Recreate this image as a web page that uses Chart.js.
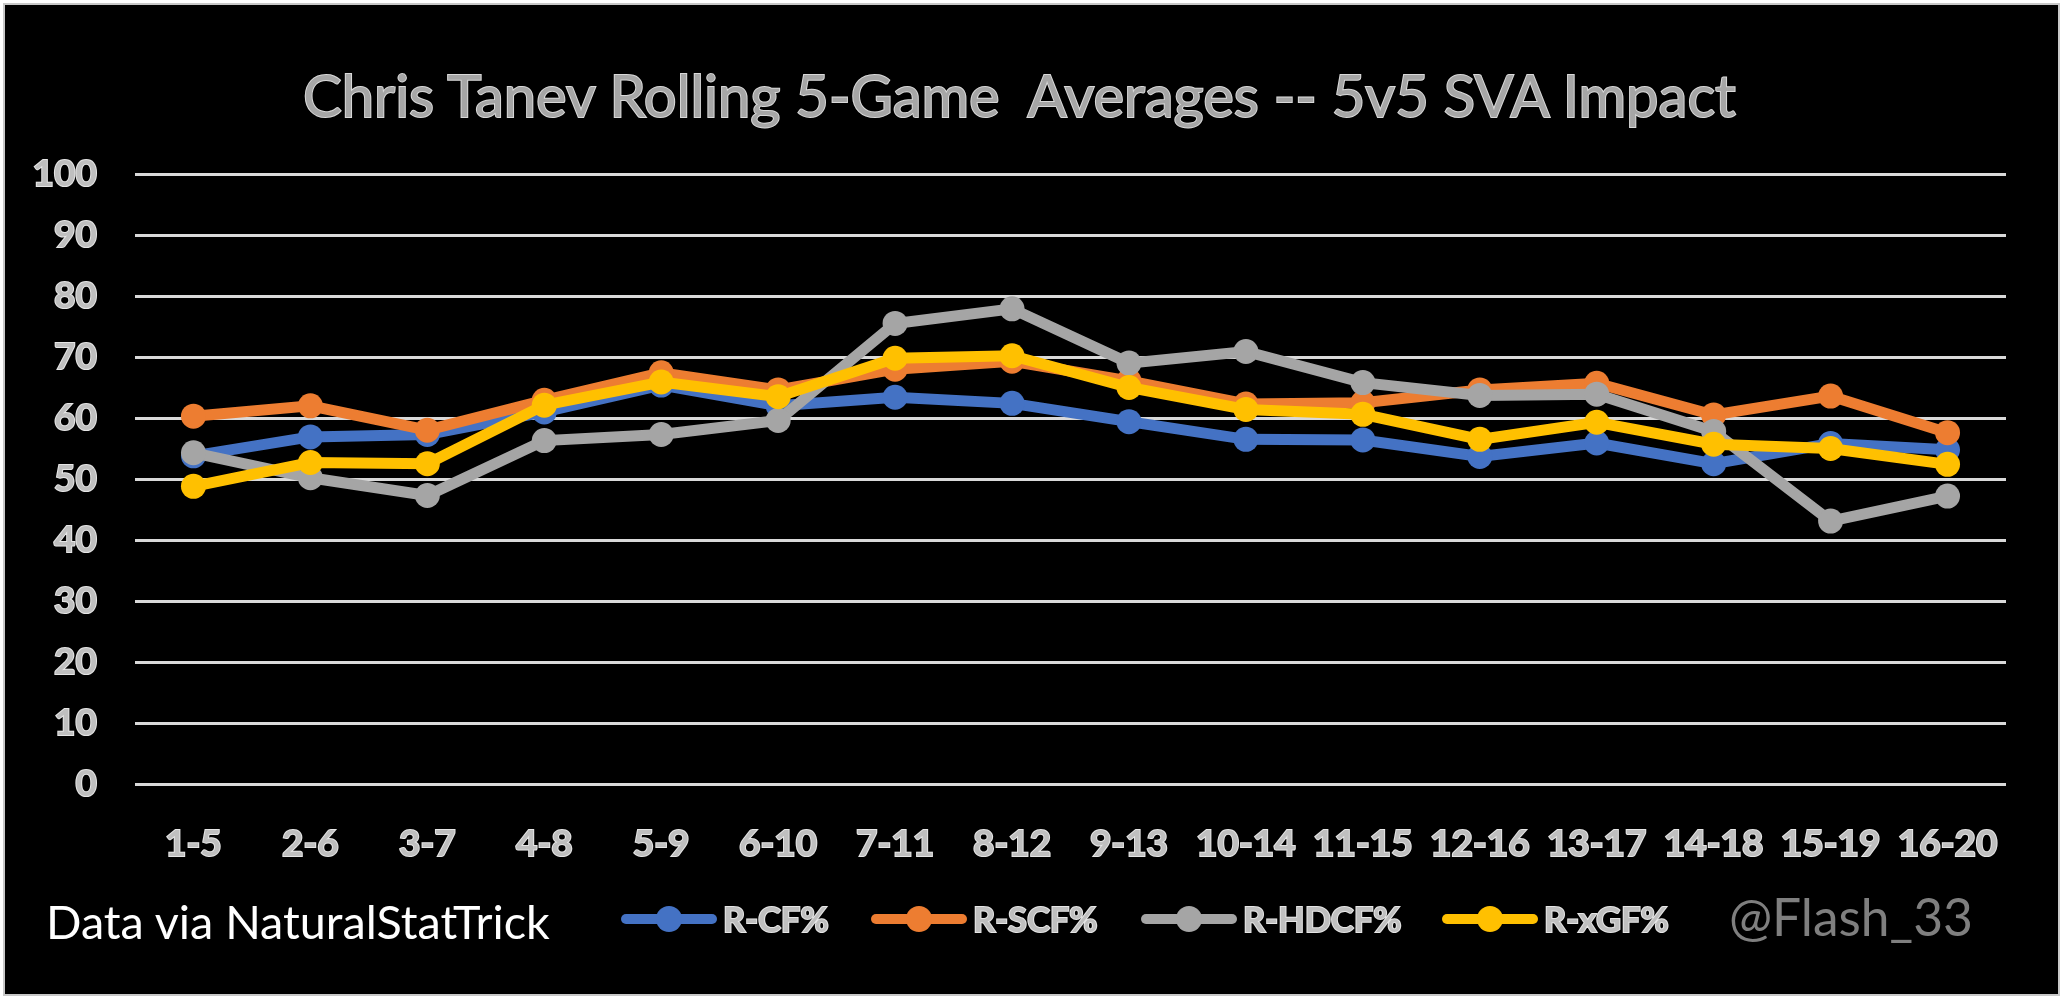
<!DOCTYPE html>
<html>
<head>
<meta charset="utf-8">
<script src="https://cdn.jsdelivr.net/npm/chart.js@4.4.1/dist/chart.umd.min.js"></script>
<style>
  html, body { margin:0; padding:0; background:#ffffff; width:2067px; height:1003px; overflow:hidden; font-family:Lato, "Noto Sans", sans-serif; }
  #frame { position:absolute; left:3px; top:3px; width:2057px; height:993px; background:#000; border:2px solid #c8c8c8; box-sizing:border-box; }
  #chart { position:absolute; left:0; top:0; }
  .txt { position:absolute; white-space:pre; line-height:1; }
  #title { color:#a6a6a6; -webkit-text-stroke:2px #d9d9d9; paint-order:stroke fill; font-weight:normal; }
  #source { color:#ffffff; }
  #credit { color:#7f7f7f; }
  .item { position:absolute; display:flex; align-items:center; }
  .sym { position:relative; width:96px; height:26px; margin-right:6px; }
  .sym .ln { position:absolute; left:0; right:0; top:8px; height:10px; border-radius:5px; }
  .sym .pt { position:absolute; left:35px; top:0; width:26px; height:26px; border-radius:50%; }
  .lab { font-weight:bold; color:#bfbfbf; -webkit-text-stroke:2px #e6e6e6; paint-order:stroke fill; white-space:pre; line-height:1; }
</style>
</head>
<body>
<div id="frame"></div>
<canvas id="chart" width="2067" height="1003"></canvas>
<div id="title" class="txt">Chris Tanev Rolling 5-Game  Averages -- 5v5 SVA Impact</div>
<div id="source" class="txt">Data via NaturalStatTrick</div>
<div id="credit" class="txt">@Flash_33</div>
<div id="legend"></div>
<script>
// ---- data ----
const categories = ['1-5','2-6','3-7','4-8','5-9','6-10','7-11','8-12','9-13','10-14','11-15','12-16','13-17','14-18','15-19','16-20'];
const seriesNames = ['R-CF%','R-SCF%','R-HDCF%','R-xGF%'];
const rCF   = [53.8, 56.9, 57.3, 61.0, 65.4, 62.0, 63.4, 62.4, 59.4, 56.5, 56.4, 53.7, 55.9, 52.5, 55.8, 54.8];
const rSCF  = [60.3, 62.0, 58.0, 62.9, 67.4, 64.6, 68.0, 69.3, 66.1, 62.3, 62.5, 64.6, 65.7, 60.5, 63.6, 57.6];
const rHDCF = [54.3, 50.2, 47.3, 56.3, 57.3, 59.6, 75.5, 77.9, 69.0, 70.9, 65.8, 63.7, 63.9, 57.8, 43.1, 47.2];
const rxGF  = [48.8, 52.7, 52.5, 62.1, 65.9, 63.5, 69.8, 70.2, 65.0, 61.4, 60.6, 56.5, 59.3, 55.7, 55.0, 52.4];
const yTickValues = [0,10,20,30,40,50,60,70,80,90,100];

const colors = ['#4472C4','#ED7D31','#A5A5A5','#FFC000'];
const seriesData = [rCF, rSCF, rHDCF, rxGF];

const datasets = seriesData.map((d, i) => ({
  label: seriesNames[i],
  data: d,
  borderColor: colors[i],
  backgroundColor: colors[i],
  pointBackgroundColor: colors[i],
  pointBorderColor: colors[i],
  pointBorderWidth: 0,
  pointRadius: 12.5,
  pointHoverRadius: 12.5,
  borderWidth: 11,
  tension: 0,
  fill: false,
  order: 4 - i
}));

const tickFont = { family: 'Lato', weight: 'bold', size: 37 };

const chart = new Chart(document.getElementById('chart'), {
  type: 'line',
  data: { labels: categories, datasets: datasets },
  options: {
    responsive: false,
    animation: false,
    devicePixelRatio: 1,
    layout: { padding: { left: 0, top: 174, right: 61, bottom: 119 } },
    plugins: { legend: { display: false }, title: { display: false }, tooltip: { enabled: false } },
    scales: {
      x: {
        type: 'category',
        offset: true,
        grid: { display: false },
        border: { display: false },
        ticks: { font: tickFont, color: '#bfbfbf', textStrokeColor: '#e6e6e6', textStrokeWidth: 2, padding: 30, maxRotation: 0, autoSkip: false },
        afterFit(s) { s.height = 100; }
      },
      y: {
        min: 0, max: 100,
        afterBuildTicks(s) { s.ticks = yTickValues.map(v => ({ value: v })); },
        grid: { color: '#d9d9d9', lineWidth: 3, drawTicks: false },
        border: { display: false },
        ticks: { font: tickFont, color: '#bfbfbf', textStrokeColor: '#e6e6e6', textStrokeWidth: 2, padding: 38 },
        afterFit(s) { s.width = 135; }
      }
    }
  }
});

// ---- HTML legend generated from chart datasets ----
const legendEl = document.getElementById('legend');
const legendX = [621, 871, 1141, 1442];
chart.data.datasets.forEach((ds, i) => {
  const item = document.createElement('div'); item.className = 'item';
  item.style.left = legendX[i] + 'px';
  item.style.top = (919 - 13) + 'px';
  item.style.height = '26px';
  const sym = document.createElement('div'); sym.className = 'sym';
  const ln = document.createElement('div'); ln.className = 'ln'; ln.style.background = ds.borderColor;
  const pt = document.createElement('div'); pt.className = 'pt'; pt.style.background = ds.borderColor;
  sym.appendChild(ln); sym.appendChild(pt);
  const lab = document.createElement('div'); lab.className = 'lab'; lab.textContent = ds.label;
  lab.style.fontSize = '34.5px';
  item.appendChild(sym); item.appendChild(lab);
  legendEl.appendChild(item);
});

// ---- text fitting helpers ----
const mctx = document.createElement('canvas').getContext('2d');
function fitSize(text, weight, targetWidth) {
  mctx.font = weight + ' 100px Lato';
  const w = mctx.measureText(text).width;
  return 100 * targetWidth / w;
}
function place(el, text, weight, left, width, baseline) {
  const fs = fitSize(text, weight, width);
  el.style.fontSize = fs + 'px';
  el.style.left = left + 'px';
  el.style.top = (baseline - 0.887 * fs) + 'px';
}
place(document.getElementById('title'), 'Chris Tanev Rolling 5-Game  Averages -- 5v5 SVA Impact', 'normal', 303, 1440, 117);
place(document.getElementById('source'), 'Data via NaturalStatTrick', 'normal', 46, 505, 939);
place(document.getElementById('credit'), '@Flash_33', 'normal', 1729, 244, 937);
</script>
</body>
</html>
